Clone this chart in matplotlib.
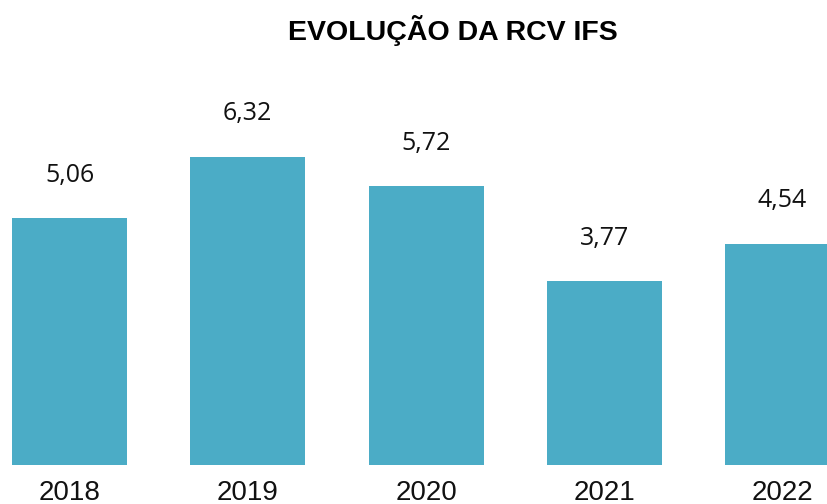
import matplotlib.pyplot as plt

# Data
anos = ['2018', '2019', '2020', '2021', '2022']
rcv = [5.06, 6.32, 5.72, 3.77, 4.54]

fig = plt.figure(figsize=(8.28, 5.04), dpi=100)
ax = fig.add_axes([0, 39 / 504, 1, 465 / 504])

x = list(range(len(anos)))
bars = ax.bar(x, rcv, width=0.645, color='#4BACC6')

for xi, v in zip(x, rcv):
    ax.annotate(f'{v:.2f}'.replace('.', ','), (xi, v), xytext=(0, 31),
                textcoords='offset points', ha='center', va='center',
                fontsize=18, family='Open Sans', color='#111111')

ax.set_xlim(-0.39, 4.255)
ax.set_ylim(0, 465 / 48.75)
ax.set_xticks(x)
ax.set_xticklabels(anos, fontsize=20, family='Liberation Sans', color='#111111')
ax.tick_params(axis='x', length=0, pad=11)
ax.set_yticks([])
for s in ax.spines.values():
    s.set_visible(False)

fig.text(453 / 828, 1 - 30 / 504, 'EVOLUÇÃO DA RCV IFS', ha='center', va='center',
         fontsize=20.5, fontweight='bold', family='Liberation Sans')

fig.savefig('out.png', dpi=100)
